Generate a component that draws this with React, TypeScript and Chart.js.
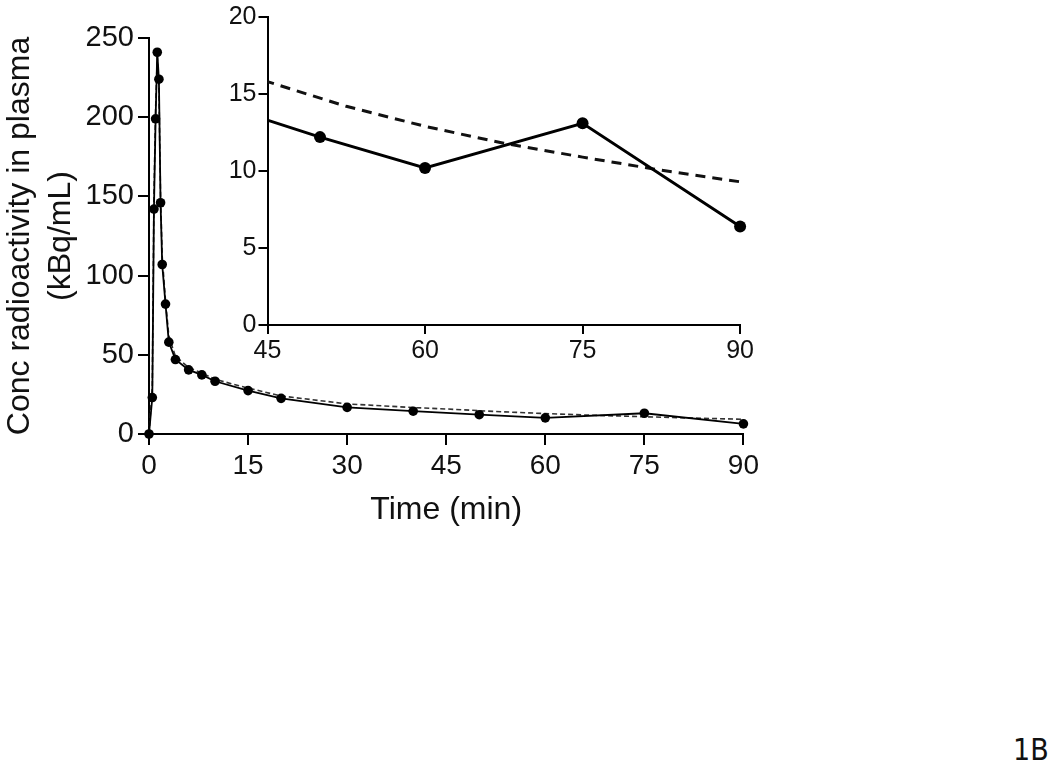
import React, { useEffect, useRef } from "react";
import { Chart, registerables } from "chart.js";

Chart.register(...registerables);

// ---- data ----
const sampleTimes = [0, 0.5, 0.75, 1, 1.25, 1.5, 1.75, 2, 2.5, 3, 4, 6, 8, 10, 15, 20, 30, 40, 50, 60, 75, 90];
const plasmaConc = [0, 23, 142, 199, 241, 224, 146, 107, 82, 58, 47, 40.5, 37.3, 33.3, 27.4, 22.5, 16.8, 14.4, 12.2, 10.2, 13.1, 6.4];

const fitTimes = [0, 0.5, 0.75, 1, 1.25, 1.5, 1.75, 2, 2.5, 3, 4, 6, 8, 10, 15, 20, 30, 40, 45, 52.5, 60, 67.5, 75, 82.5, 90];
const fitConc = [0, 30, 150, 205, 238, 218, 150, 112, 84, 62, 49, 42, 38.5, 34.5, 29, 24, 19, 16.7, 15.8, 14.2, 12.9, 11.8, 10.9, 10.05, 9.3];

const mainXTicks = [0, 15, 30, 45, 60, 75, 90];
const mainYTicks = [0, 50, 100, 150, 200, 250];
const insetXTicks = [45, 60, 75, 90];
const insetYTicks = [0, 5, 10, 15, 20];

const xTitle = "Time (min)";
const yTitle = ["Conc radioactivity in plasma", "(kBq/mL)"];
const panelLabel = "1B";

const FONT = "'Liberation Sans', Arial, Helvetica, sans-serif";

const toPts = (xs: number[], ys: number[]) => xs.map((x, i) => ({ x, y: ys[i] }));

function setTicks(values: number[]) {
  return (scale: any) => {
    scale.ticks = values.map((v) => ({ value: v }));
  };
}

export default function App() {
  const mainRef = useRef<HTMLCanvasElement | null>(null);
  const insetRef = useRef<HTMLCanvasElement | null>(null);

  useEffect(() => {
    Chart.defaults.font.family = FONT;
    const axisCommon = (tickLength: number, lw: number) => ({
      grid: { display: true, drawOnChartArea: false, drawTicks: true, tickLength, color: "#000", lineWidth: lw },
      border: { display: true, color: "#000", width: lw },
    });

    const main = new Chart(mainRef.current as HTMLCanvasElement, {
      type: "line",
      data: {
        datasets: [
          {
            data: toPts(fitTimes, fitConc),
            borderColor: "#333",
            borderWidth: 1.6,
            borderDash: [5, 3],
            pointRadius: 0,
            fill: false,
            tension: 0,
            clip: false,
            order: 2,
          },
          {
            data: toPts(sampleTimes, plasmaConc),
            borderColor: "#000",
            borderWidth: 1.8,
            pointRadius: 4.8,
            pointBackgroundColor: "#000",
            pointBorderWidth: 0,
            fill: false,
            tension: 0,
            clip: false,
            order: 1,
          },
        ],
      } as any,
      options: {
        responsive: false,
        animation: false,
        events: [],
        layout: { padding: { left: 0, top: 38, right: 18, bottom: 0 } },
        plugins: { legend: { display: false }, tooltip: { enabled: false } },
        scales: {
          x: {
            type: "linear",
            min: 0,
            max: 90,
            afterBuildTicks: setTicks(mainXTicks),
            afterFit: (s: any) => { s.height = 100; },
            ...axisCommon(11, 2),
            ticks: { color: "#111", font: { size: 28 }, padding: 4, maxRotation: 0, autoSkip: false },
            title: { display: true, text: xTitle, color: "#111", font: { size: 32, lineHeight: 1.2 }, padding: { top: 0, bottom: 5 } },
          },
          y: {
            type: "linear",
            min: 0,
            max: 250,
            afterBuildTicks: setTicks(mainYTicks),
            afterFit: (s: any) => { s.width = 149; },
            ...axisCommon(11, 2),
            ticks: { color: "#111", font: { size: 29 }, padding: 4, autoSkip: false },
            title: { display: true, text: yTitle, color: "#111", font: { size: 32, lineHeight: 1.28 }, padding: { top: 0, bottom: 0 } },
          },
        },
      } as any,
    });

    const inset = new Chart(insetRef.current as HTMLCanvasElement, {
      type: "line",
      data: {
        datasets: [
          {
            data: toPts(fitTimes, fitConc),
            borderColor: "#111",
            borderWidth: 3,
            borderDash: [10, 7],
            pointRadius: 0,
            fill: false,
            tension: 0,
            clip: { left: 0, right: 10, top: 10, bottom: 10 },
            order: 2,
          },
          {
            data: toPts(sampleTimes, plasmaConc),
            borderColor: "#000",
            borderWidth: 3,
            pointRadius: 6,
            pointBackgroundColor: "#000",
            pointBorderWidth: 0,
            fill: false,
            tension: 0,
            clip: { left: 0, right: 10, top: 10, bottom: 10 },
            order: 1,
          },
        ],
      } as any,
      options: {
        responsive: false,
        animation: false,
        events: [],
        layout: { padding: { left: 0, top: 10, right: 14, bottom: 0 } },
        plugins: { legend: { display: false }, tooltip: { enabled: false } },
        scales: {
          x: {
            type: "linear",
            min: 45,
            max: 90,
            afterBuildTicks: setTicks(insetXTicks),
            afterFit: (s: any) => { s.height = 45; },
            ...axisCommon(9, 2),
            ticks: { color: "#111", font: { size: 25 }, padding: 2, maxRotation: 0, autoSkip: false },
          },
          y: {
            type: "linear",
            min: 0,
            max: 20,
            afterBuildTicks: setTicks(insetYTicks),
            afterFit: (s: any) => { s.width = 67.5; },
            ...axisCommon(9, 2),
            ticks: { color: "#111", font: { size: 25 }, padding: 2, autoSkip: false },
          },
        },
      } as any,
    });

    return () => {
      main.destroy();
      inset.destroy();
    };
  }, []);

  return (
    <div style={{ position: "absolute", left: 0, top: 0, width: 1050, height: 763, background: "#fff", overflow: "hidden" }}>
      <canvas ref={mainRef} width={763} height={534} style={{ position: "absolute", left: 0, top: 0 }} />
      <canvas ref={insetRef} width={556} height={370} style={{ position: "absolute", left: 200, top: 0 }} />
      <div
        style={{
          position: "absolute",
          right: 1,
          top: 734.6,
          fontFamily: "'DejaVu Sans', 'Noto Sans', sans-serif",
          fontSize: 30,
          lineHeight: "30px",
          color: "#111",
          transform: "scaleX(0.9)",
          transformOrigin: "right top",
          whiteSpace: "nowrap",
        }}
      >
        {panelLabel}
      </div>
    </div>
  );
}
